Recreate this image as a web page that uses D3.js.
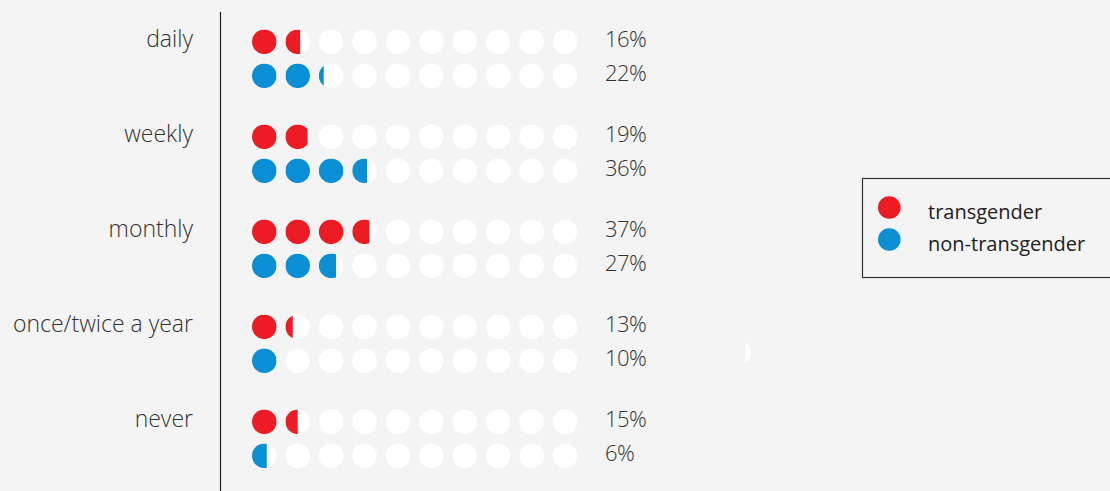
<!DOCTYPE html>
<html>
<head>
<meta charset="utf-8">
<script src="https://cdn.jsdelivr.net/npm/d3@7"></script>
<style>
  body { margin: 0; background: #f4f4f4; }
  svg { display: block; font-family: "Open Sans", Lato, sans-serif; }
</style>
</head>
<body>
<div id="chart"></div>
<script>
var categories = ["daily", "weekly", "monthly", "once/twice a year", "never"];
var transgender = [16, 19, 37, 13, 15];
var nonTransgender = [22, 36, 27, 10, 6];
var seriesNames = ["transgender", "non-transgender"];
var seriesColors = ["#ed1c24", "#0a8fd4"];

var width = 1110;
var height = 491;
var r = 12.3;

var svg = d3.select("#chart")
    .append("svg")
    .attr("width", width)
    .attr("height", height);

svg.append("rect")
    .attr("width", width)
    .attr("height", height)
    .attr("fill", "#f4f4f4");

var defs = svg.append("defs");

var y = d3.scaleBand()
    .domain(categories)
    .range([-5.2, 469.8]);

var x = d3.scalePoint()
    .domain(d3.range(10))
    .range([264.3, 565]);

var rowOffset = [0, 34];

// vertical axis line
svg.append("line")
    .attr("x1", 220.5)
    .attr("x2", 220.5)
    .attr("y1", 12)
    .attr("y2", height)
    .attr("stroke", "#222")
    .attr("stroke-width", 1.2);

// category labels
svg.selectAll(".cat")
    .data(categories)
    .enter()
    .append("text")
    .attr("class", "cat")
    .attr("x", 193)
    .attr("y", function(d){ return y(d) + y.bandwidth() / 2 - 0.5 + 5; })
    .attr("text-anchor", "end")
    .attr("fill", "#333")
    .attr("font-size", 23)
    .attr("font-weight", 300)
    .text(function(d){ return d; });

var rows = [];
categories.forEach(function(c, ci){
    [transgender, nonTransgender].forEach(function(series, si){
        rows.push({cat: c, series: si, value: series[ci], cy: y(c) + y.bandwidth() / 2 - 0.5 + rowOffset[si]});
    });
});

var clipId = 0;
rows.forEach(function(row){
    var g = svg.append("g");
    d3.range(10).forEach(function(i){
        var cx = x(i);
        g.append("circle")
            .attr("cx", cx)
            .attr("cy", row.cy)
            .attr("r", r)
            .attr("fill", "#fff");
        var frac = Math.max(0, Math.min(1, (row.value - i * 10) / 10));
        if (frac > 0) {
            var id = "clip" + (clipId++);
            defs.append("clipPath")
                .attr("id", id)
                .append("rect")
                .attr("x", cx - r)
                .attr("y", row.cy - r)
                .attr("width", frac * 2 * r)
                .attr("height", 2 * r);
            g.append("circle")
                .attr("cx", cx)
                .attr("cy", row.cy)
                .attr("r", r)
                .attr("fill", seriesColors[row.series])
                .attr("clip-path", "url(#" + id + ")");
        }
    });
    g.append("text")
        .attr("x", 605)
        .attr("y", row.cy + 5)
        .attr("fill", "#333")
        .attr("font-size", 22)
        .attr("font-weight", 300)
        .attr("letter-spacing", -0.6)
        .text(row.value + "%");
});

// stray white sliver
defs.append("clipPath")
    .attr("id", "sliver")
    .append("rect")
    .attr("x", 745)
    .attr("y", 330)
    .attr("width", 20)
    .attr("height", 40);
svg.append("circle")
    .attr("cx", 739)
    .attr("cy", 352.5)
    .attr("r", 12)
    .attr("fill", "#fff")
    .attr("clip-path", "url(#sliver)");

// legend
var legend = svg.append("g");
legend.append("rect")
    .attr("x", 862.5)
    .attr("y", 178.5)
    .attr("width", 270)
    .attr("height", 99)
    .attr("fill", "none")
    .attr("stroke", "#333")
    .attr("stroke-width", 1.2);

seriesNames.forEach(function(name, i){
    legend.append("circle")
        .attr("cx", 889.3)
        .attr("cy", 207.5 + i * 32)
        .attr("r", 11.3)
        .attr("fill", seriesColors[i]);
    legend.append("text")
        .attr("x", 928)
        .attr("y", 219.3 + i * 31.7)
        .attr("fill", "#222")
        .attr("font-size", 20)
        .attr("font-weight", 500)
        .text(name);
});
</script>
</body>
</html>
